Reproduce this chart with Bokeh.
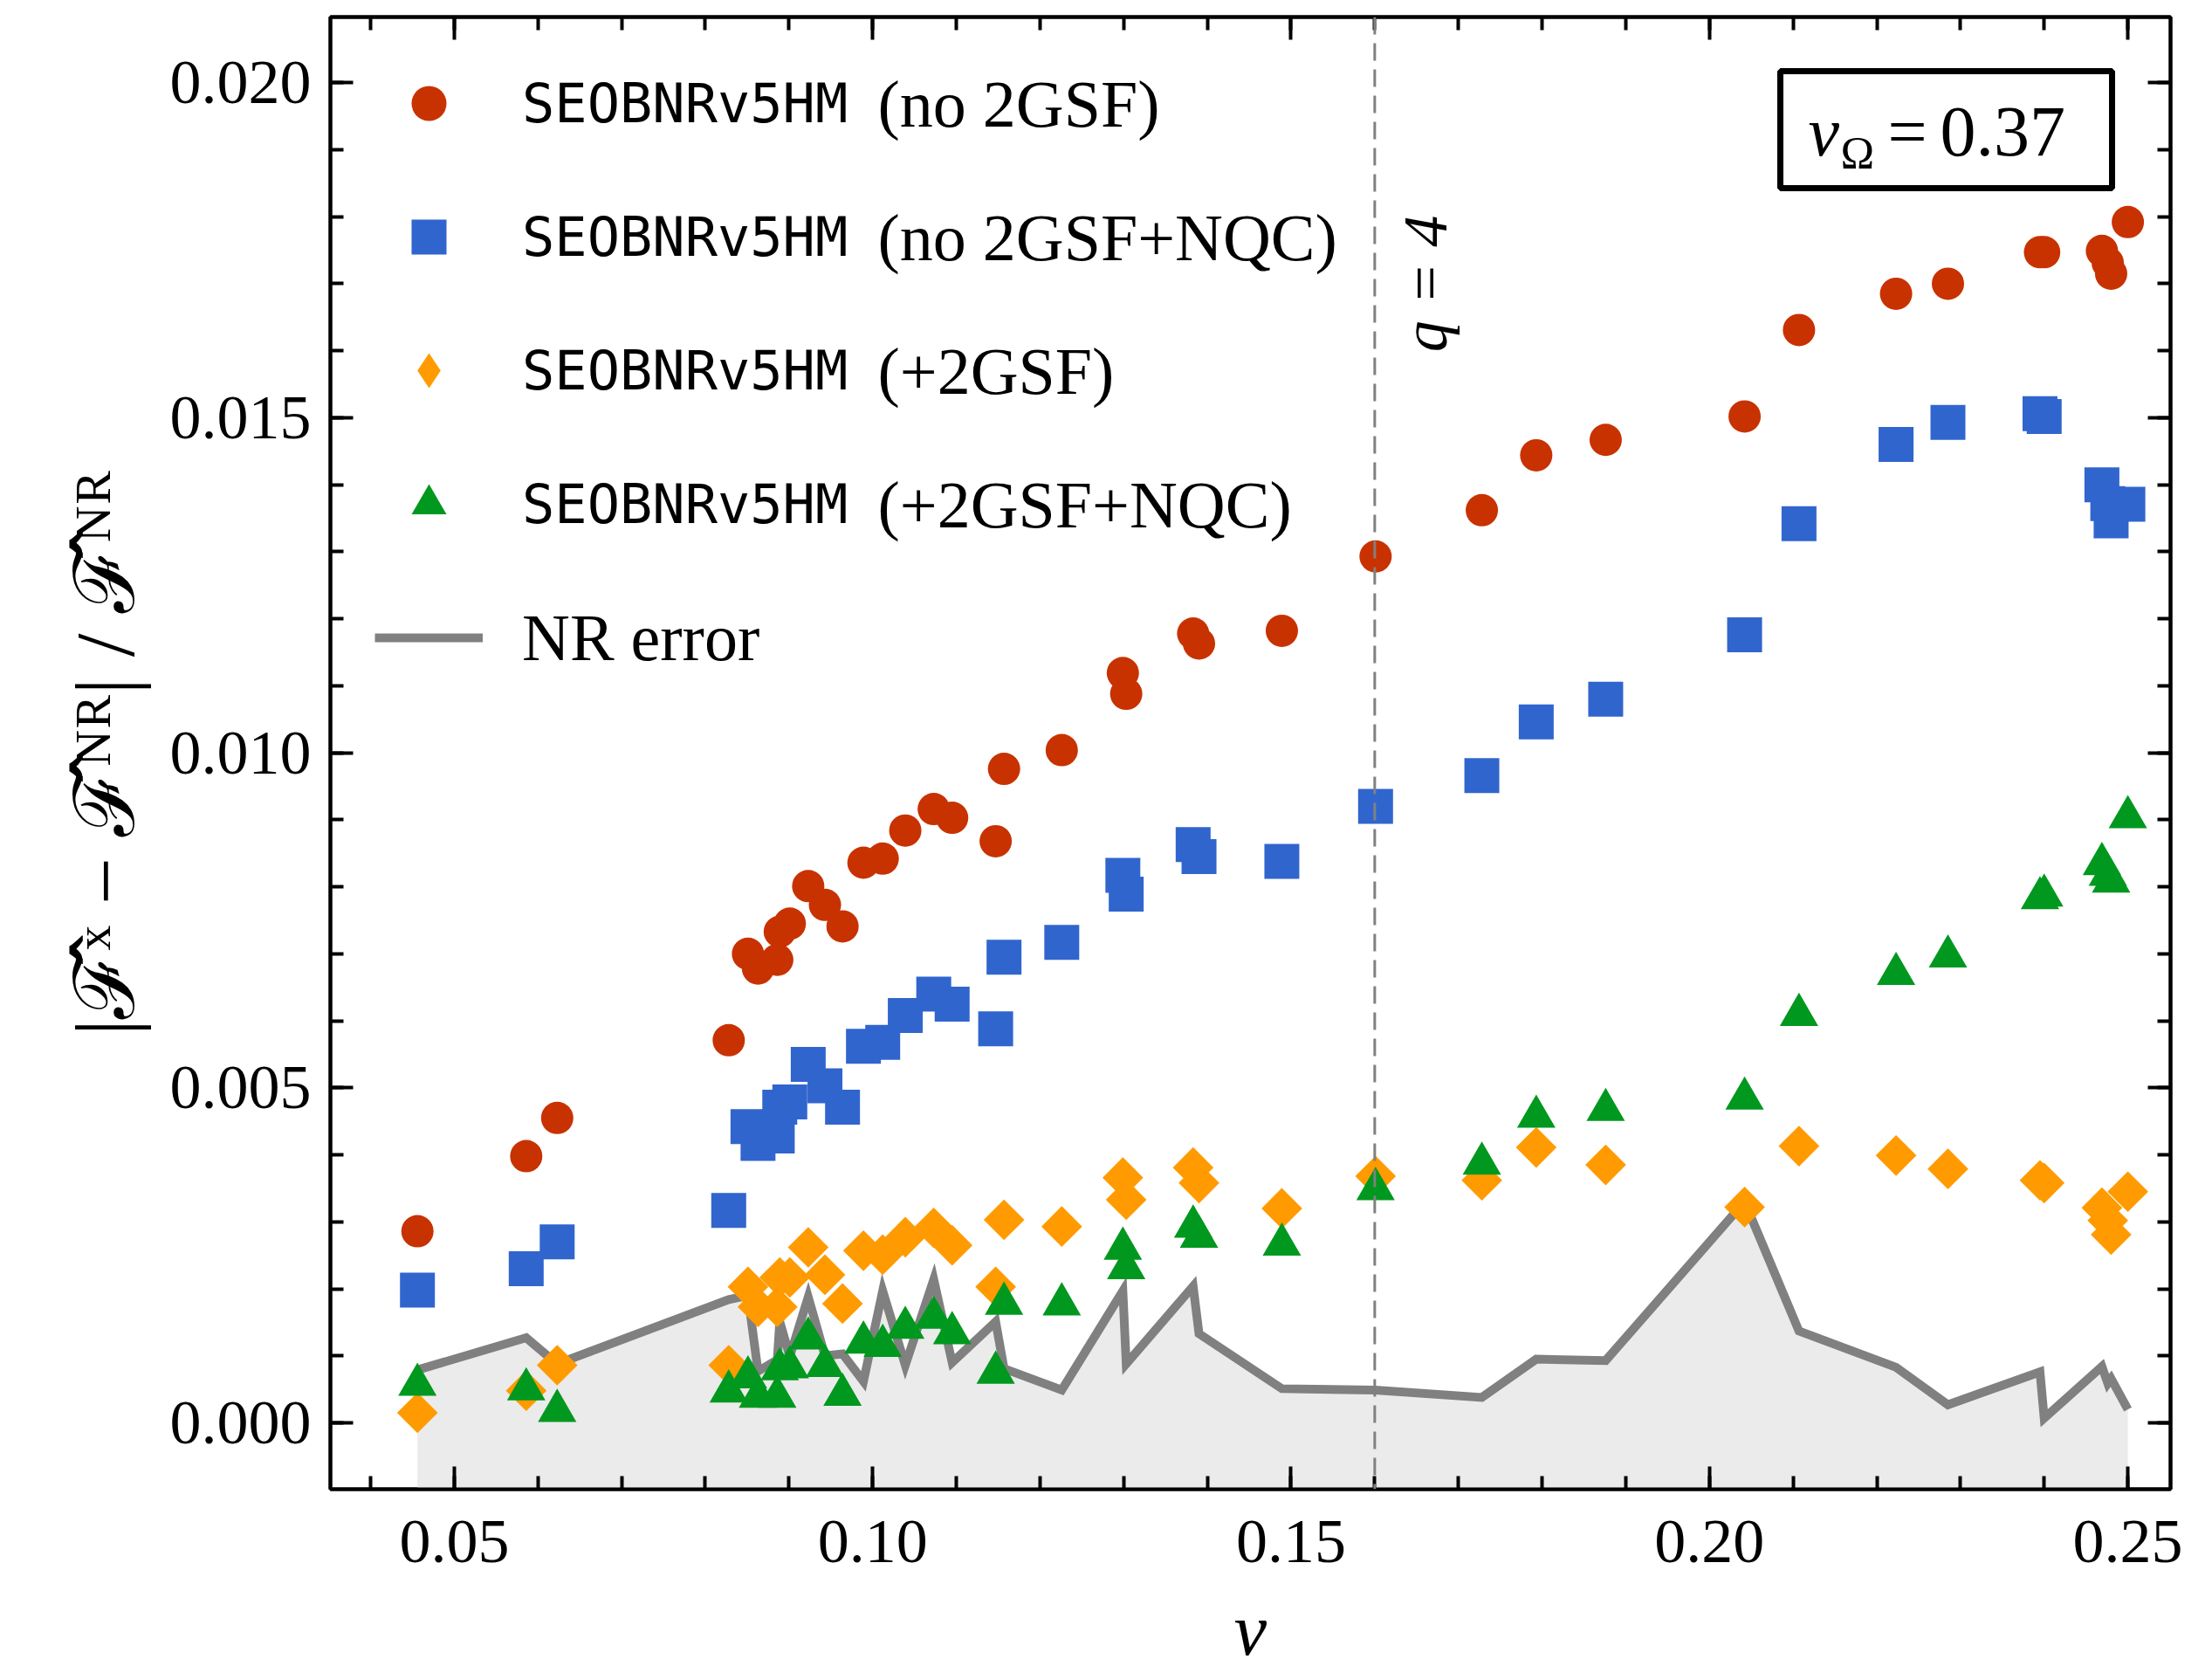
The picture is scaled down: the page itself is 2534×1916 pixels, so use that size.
import numpy as np
from bokeh.plotting import figure
from bokeh.models import (Range1d, FixedTicker, NumeralTickFormatter, LinearAxis, Span,
                          Label, Legend, LegendItem, BoxAnnotation, CustomLabelingPolicy)
from bokeh.embed import file_html
from bokeh.resources import INLINE

# ---------------- data ----------------
nu = [0.0456, 0.0586, 0.0623, 0.0828, 0.0851, 0.0863, 0.0886, 0.0889, 0.0901, 0.0923,
      0.0943, 0.0964, 0.0989, 0.1012, 0.1039, 0.1073, 0.1095, 0.1147, 0.1157, 0.1226,
      0.1299, 0.1303, 0.1383, 0.1390, 0.1489, 0.1601, 0.1728, 0.1793, 0.1876, 0.2042,
      0.2107, 0.2223, 0.2285, 0.2395, 0.2400, 0.2469, 0.2476, 0.2480, 0.2500]

err_no2gsf = [0.00286, 0.00398, 0.00455, 0.00571, 0.00700, 0.00678, 0.00691, 0.00733, 0.00745, 0.00801,
              0.00773, 0.00741, 0.00836, 0.00842, 0.00884, 0.00916, 0.00903, 0.00868, 0.00976, 0.01004,
              0.01119, 0.01088, 0.01178, 0.01163, 0.01182, 0.01293, 0.01362, 0.01444, 0.01467, 0.01502,
              0.01631, 0.01685, 0.01700, 0.01747, 0.01747, 0.01749, 0.01731, 0.01715, 0.01792]

err_no2gsf_nqc = [0.00198, 0.00230, 0.00270, 0.00317, 0.00442, 0.00417, 0.00428, 0.00471, 0.00479, 0.00535,
                  0.00503, 0.00471, 0.00562, 0.00568, 0.00608, 0.00640, 0.00625, 0.00588, 0.00695, 0.00717,
                  0.00817, 0.00789, 0.00863, 0.00845, 0.00838, 0.00920, 0.00966, 0.01046, 0.01080, 0.01176,
                  0.01342, 0.01460, 0.01493, 0.01506, 0.01502, 0.01400, 0.01372, 0.01346, 0.01371]

err_2gsf = [0.00015, 0.00048, 0.00086, 0.00086, 0.00203, 0.00173, 0.00173, 0.00217, 0.00217, 0.00262,
            0.00221, 0.00178, 0.00257, 0.00251, 0.00277, 0.00291, 0.00265, 0.00203, 0.00303, 0.00293,
            0.00366, 0.00333, 0.00381, 0.00358, 0.00320, 0.00368, 0.00362, 0.00411, 0.00385, 0.00322,
            0.00413, 0.00399, 0.00379, 0.00362, 0.00358, 0.00321, 0.00302, 0.00281, 0.00345]

err_2gsf_nqc = [0.00057, 0.00050, 0.00018, 0.00047, 0.00068, 0.00039, 0.00039, 0.00080, 0.00083, 0.00126,
                0.00085, 0.00042, 0.00120, 0.00115, 0.00142, 0.00157, 0.00134, 0.00075, 0.00178, 0.00177,
                0.00260, 0.00231, 0.00293, 0.00278, 0.00266, 0.00349, 0.00387, 0.00457, 0.00467, 0.00484,
                0.00609, 0.00670, 0.00696, 0.00783, 0.00787, 0.00834, 0.00818, 0.00808, 0.00904]

nr_error = [0.00079, 0.00127, 0.00088, 0.00184, 0.00190, 0.00077, 0.00094, 0.00151, 0.00099, 0.00188,
            0.00100, 0.00103, 0.00062, 0.00197, 0.00086, 0.00214, 0.00090, 0.00151, 0.00081, 0.00049,
            0.00197, 0.00088, 0.00204, 0.00133, 0.00051, 0.00049, 0.00038, 0.00095, 0.00093, 0.00330,
            0.00137, 0.00083, 0.00027, 0.00076, 0.00007, 0.00084, 0.00059, 0.00066, 0.00020]

series_names = ["(no 2GSF)", "(no 2GSF+NQC)", "(+2GSF)", "(+2GSF+NQC)"]
model_name = "SEOBNRv5HM"
q_marker = 4
v_omega_value = "0.37"
y_label = "|ℱ̂ˣ − ℱ̂ᴺᴿ| / ℱ̂ᴺᴿ"
x_label = "ν"

x_ticks = [0.05, 0.10, 0.15, 0.20, 0.25]
x_minor = [0.04, 0.05, 0.06, 0.07, 0.08, 0.09, 0.10, 0.11, 0.12, 0.13, 0.14, 0.15,
           0.16, 0.17, 0.18, 0.19, 0.20, 0.21, 0.22, 0.23, 0.24, 0.25]
y_ticks = [0.000, 0.005, 0.010, 0.015, 0.020]
y_minor = [0.000, 0.001, 0.002, 0.003, 0.004, 0.005, 0.006, 0.007, 0.008, 0.009, 0.010,
           0.011, 0.012, 0.013, 0.014, 0.015, 0.016, 0.017, 0.018, 0.019, 0.020]

# ---------------- style ----------------
RED = "#C83200"
BLUE = "#3165CE"
ORANGE = "#FF9B00"
GREEN = "#00981E"
GRAY = "#808080"
FILL = "#EBEBEB"
SERIF = "Liberation Serif"
MONO = "DejaVu Sans Mono"
INK = "black"

X0, X1 = 0.0352, 0.2551
Y0, Y1 = -0.00099, 0.02098
FRAME_H = 1686

p = figure(width=2518, height=1916, x_range=Range1d(X0, X1), y_range=Range1d(Y0, Y1),
           output_backend="svg", toolbar_location=None,
           min_border_left=378, min_border_right=32, min_border_top=19, min_border_bottom=211)
p.grid.visible = False
p.outline_line_color = "black"
p.outline_line_width = 4
p.background_fill_color = "white"
p.border_fill_color = "white"

# NR error band and line
p.varea(x=nu, y1=Y0 - 0.01, y2=nr_error, fill_color=FILL)
nr_line = p.line(nu, nr_error, line_color=GRAY, line_width=10, line_join="miter")

r1 = p.scatter(nu, err_no2gsf, marker="circle", size=37, fill_color=RED, line_color=None)
r2 = p.scatter(nu, err_no2gsf_nqc, marker="square", size=40, fill_color=BLUE, line_color=None)
r3 = p.scatter(nu, err_2gsf, marker="square", angle=np.pi / 4, size=33, fill_color=ORANGE, line_color=None)
r4 = p.scatter(nu, err_2gsf_nqc, marker="triangle", size=44, fill_color=GREEN, line_color=None)
# legend-only proxy glyph (diamond shape for the legend entry), no visible data
r3_leg = p.scatter(x=[np.nan], y=[np.nan], marker="diamond", size=47, fill_color=ORANGE, line_color=None)

# q = 4 line
nu_q = q_marker / (1 + q_marker) ** 2
p.add_layout(Span(location=nu_q, dimension="height", line_color=GRAY, line_width=3,
                  line_dash="20 10"))
p.add_layout(Label(x=nu_q, y=0.0170, x_offset=58, text=f"q = {q_marker}", angle=np.pi / 2,
                   text_align="center", text_baseline="middle", text_color=INK,
                   text_font=SERIF, text_font_style="italic", text_font_size="72px"))

# axes
no_labels = CustomLabelingPolicy(code="""
const all = [...indices];
for (const i of all) { indices.unset(i); }
return indices;
""")

def style_axis(ax, labels=True):
    ax.axis_line_width = 4
    ax.axis_line_color = "black"
    ax.major_tick_line_width = 4
    ax.minor_tick_line_width = 4
    ax.major_tick_line_color = "black"
    ax.minor_tick_line_color = "black"
    ax.major_tick_in = 26
    ax.major_tick_out = 0
    ax.minor_tick_in = 15
    ax.minor_tick_out = 0
    ax.major_label_text_color = INK
    if not labels:
        ax.major_label_policy = no_labels
        ax.major_label_standoff = 0
        ax.axis_label = None

xa = p.xaxis[0]
xa.ticker = FixedTicker(ticks=x_ticks, minor_ticks=x_minor)
xa.formatter = NumeralTickFormatter(format="0.00")
style_axis(xa)
xa.major_label_text_font = SERIF
xa.major_label_text_font_size = "72px"
xa.major_label_standoff = 36
xa.axis_label = x_label
xa.axis_label_text_color = INK
xa.axis_label_text_font = SERIF
xa.axis_label_text_font_style = "italic"
xa.axis_label_text_font_size = "84px"
xa.axis_label_standoff = 28

ya = p.yaxis[0]
ya.ticker = FixedTicker(ticks=y_ticks, minor_ticks=y_minor)
ya.formatter = NumeralTickFormatter(format="0.000")
style_axis(ya)
ya.major_label_text_font = SERIF
ya.major_label_text_font_size = "72px"
ya.major_label_standoff = 22
ya.axis_label = y_label
ya.axis_label_text_color = INK
ya.axis_label_text_font = SERIF
ya.axis_label_text_font_style = "normal"
ya.axis_label_text_font_size = "96px"
ya.axis_label_standoff = 18

top_ax = LinearAxis(ticker=FixedTicker(ticks=x_ticks, minor_ticks=x_minor))
style_axis(top_ax, labels=False)
p.add_layout(top_ax, "above")
right_ax = LinearAxis(ticker=FixedTicker(ticks=y_ticks, minor_ticks=y_minor))
style_axis(right_ax, labels=False)
p.add_layout(right_ax, "right")

# legends (positions in screen px from the frame's bottom-left corner)
ROW_H, ROW_GAP = 100, 53
leg1_h = 4 * ROW_H + 3 * ROW_GAP
leg1 = Legend(items=[LegendItem(label=model_name, renderers=[r]) for r in (r1, r2, r3_leg, r4)],
              location=(51, FRAME_H - 49 - leg1_h), margin=0, padding=0, spacing=ROW_GAP,
              glyph_width=124, glyph_height=ROW_H, label_height=ROW_H, label_width=10,
              label_standoff=45, label_text_font=MONO, label_text_font_size="62px",
              label_text_color=INK, background_fill_alpha=0, border_line_color=None)
p.add_layout(leg1)
leg2 = Legend(items=[LegendItem(label="NR error", renderers=[nr_line])],
              location=(51, FRAME_H - 661 - ROW_H), margin=0, padding=0,
              glyph_width=124, glyph_height=ROW_H, label_height=ROW_H, label_width=10,
              label_standoff=45, label_text_font=SERIF, label_text_font_size="76px",
              label_text_color=INK, background_fill_alpha=0, border_line_color=None)
p.add_layout(leg2)

row_from_bottom = [FRAME_H - 99, FRAME_H - 252, FRAME_H - 405, FRAME_H - 558]
for name, yy in zip(series_names, row_from_bottom):
    p.add_layout(Label(x=627, y=yy, x_units="screen", y_units="screen", text=name,
                       text_baseline="middle", text_color=INK, text_font=SERIF,
                       text_font_size="76px"))

# v_Omega box
p.add_layout(BoxAnnotation(left=1661, right=2041, top=1624, bottom=1490,
                           left_units="screen", right_units="screen",
                           top_units="screen", bottom_units="screen",
                           fill_color="white", fill_alpha=1.0,
                           line_color="black", line_alpha=1.0, line_width=7))
p.add_layout(Label(x=1693, y=1555, x_units="screen", y_units="screen", text="v",
                   text_baseline="middle", text_font=SERIF, text_font_style="italic",
                   text_color=INK, text_font_size="80px"))
p.add_layout(Label(x=1730, y=1530, x_units="screen", y_units="screen", text="Ω",
                   text_baseline="middle", text_font=SERIF, text_color=INK,
                   text_font_size="52px"))
p.add_layout(Label(x=1784, y=1555, x_units="screen", y_units="screen", text="=",
                   text_baseline="middle", text_font=SERIF, text_color=INK,
                   text_font_size="80px"))
p.add_layout(Label(x=1844, y=1555, x_units="screen", y_units="screen", text=v_omega_value,
                   text_baseline="middle", text_font=SERIF, text_color=INK,
                   text_font_size="82px"))

open("out.html", "w").write(file_html(p, INLINE))
